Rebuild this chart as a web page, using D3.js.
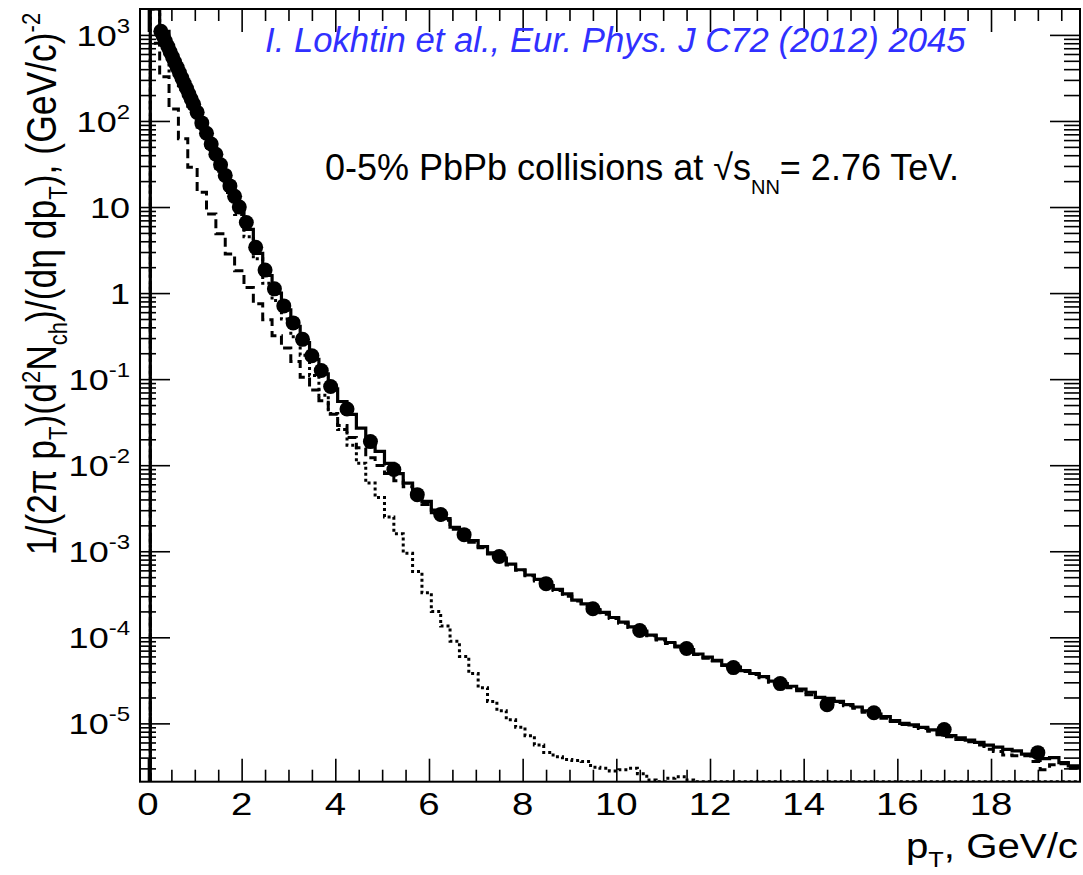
<!DOCTYPE html>
<html>
<head>
<meta charset="utf-8">
<script src="https://cdn.jsdelivr.net/npm/d3@7"></script>
<style>
  body { margin: 0; background: #fff; }
  text { font-family: "Liberation Sans", Arial, sans-serif; }
</style>
</head>
<body>
<svg id="chart" width="1083" height="875"></svg>
<script>
// measured points (ALICE 0-5%)
var dataPt = [0.275, 0.325, 0.375, 0.425, 0.475, 0.525, 0.575, 0.625, 0.675, 0.725, 0.775, 0.825, 0.875, 0.925, 0.975,
  1.05, 1.15, 1.25, 1.35, 1.45, 1.55, 1.65, 1.75, 1.85, 1.95,
  2.1, 2.3, 2.5, 2.7, 2.9, 3.1, 3.3, 3.5, 3.7, 3.9,
  4.25, 4.75, 5.25, 5.75, 6.25, 6.75, 7.5, 8.5, 9.5, 10.5, 11.5, 12.5, 13.5, 14.5, 15.5, 17, 19];
var dataY = [1100, 968, 840, 731, 634, 552, 479, 417, 362, 315, 273, 238, 206, 179, 156,
  126, 95, 72, 54, 41, 31, 23.3, 17.6, 13.3, 10.0,
  6.6, 3.4, 1.85, 1.12, 0.71, 0.45, 0.29, 0.187, 0.126, 0.082,
  0.045, 0.0188, 0.0089, 0.00455, 0.00267, 0.00156, 8.7e-4, 4.2e-4, 2.15e-4, 1.2e-4, 7.4e-5, 4.45e-5, 2.9e-5, 1.65e-5, 1.33e-5, 8.5e-6, 4.57e-6];

// model histograms, bins of 0.2 GeV/c starting at 0.05
var binStart = 0.05, binWidth = 0.2;
var totalH = [
  5000, 1100, 520, 295, 168, 95, 54, 31, 17.6, 10.0,
  5.5, 2.9, 1.6, 1.0, 0.64, 0.41, 0.265, 0.17, 0.115, 0.077,
  0.055, 0.039, 0.027, 0.019, 0.0145, 0.0105, 0.0080, 0.0062, 0.0047, 0.0038,
  0.0030, 0.0024, 0.0019, 0.0016, 0.00133, 0.00113, 0.00096, 0.00083, 0.00071, 0.00061,
  5.3e-4, 4.7e-4, 4.0e-4, 3.6e-4, 3.2e-4, 2.7e-4, 2.45e-4, 2.1e-4, 1.95e-4, 1.7e-4,
  1.50e-4, 1.32e-4, 1.18e-4, 1.06e-4, 9.6e-5, 8.7e-5, 7.9e-5, 7.2e-5, 6.4e-5, 5.9e-5,
  5.4e-5, 4.8e-5, 4.5e-5, 4.1e-5, 3.8e-5, 3.5e-5, 3.1e-5, 2.9e-5, 2.7e-5, 2.5e-5,
  2.3e-5, 2.0e-5, 1.95e-5, 1.8e-5, 1.65e-5, 1.55e-5, 1.40e-5, 1.28e-5, 1.20e-5, 1.08e-5,
  1.00e-5, 9.6e-6, 9.0e-6, 8.4e-6, 7.6e-6, 7.2e-6, 6.8e-6, 6.4e-6, 6.0e-6, 5.6e-6,
  5.3e-6, 5.0e-6, 4.8e-6, 4.4e-6, 4.2e-6, 3.9e-6, 4.0e-6, 3.5e-6, 3.2e-6, 3.1e-6];
var hardH = [
  800, 327, 138, 62, 29, 14.8, 8.3, 4.9, 2.85, 1.82,
  1.16, 0.75, 0.49, 0.32, 0.23, 0.16, 0.105, 0.075, 0.056, 0.039,
  0.029, 0.021, 0.016, 0.0122, 0.0099, 0.0080, 0.0066, 0.0056, 0.0044, 0.0035,
  0.0028, 0.0023, 0.0018, 0.00152, 0.00127, 0.0011, 0.00093, 0.00081, 0.00069, 0.00060,
  5.2e-4, 4.5e-4, 4.0e-4, 3.5e-4, 3.0e-4, 2.65e-4, 2.35e-4, 2.05e-4, 1.85e-4, 1.65e-4,
  1.46e-4, 1.30e-4, 1.15e-4, 1.04e-4, 9.3e-5, 8.5e-5, 7.7e-5, 7.0e-5, 6.3e-5, 5.7e-5,
  5.3e-5, 4.7e-5, 4.3e-5, 4.0e-5, 3.7e-5, 3.4e-5, 3.0e-5, 2.8e-5, 2.6e-5, 2.4e-5,
  2.15e-5, 2.0e-5, 1.85e-5, 1.75e-5, 1.6e-5, 1.5e-5, 1.35e-5, 1.25e-5, 1.15e-5, 1.05e-5,
  9.7e-6, 9.2e-6, 8.7e-6, 8.1e-6, 7.4e-6, 7.0e-6, 6.5e-6, 6.1e-6, 5.6e-6, 5.0e-6,
  4.7e-6, 4.3e-6, 4.2e-6, 4.2e-6, 3.6e-6, 2.9e-6, 3.3e-6, 3.4e-6, 3.0e-6, 2.9e-6];
var softH = [
  4000, 770, 380, 233, 139, 80, 46, 26, 14.7, 8.2,
  4.5, 2.5, 1.3, 0.82, 0.5, 0.31, 0.19, 0.11, 0.065, 0.040,
  0.026, 0.017, 0.0105, 0.0062, 0.0042, 0.0025, 0.0016, 0.00095, 0.00058, 0.00033,
  2.0e-4, 1.35e-4, 9.0e-5, 6.0e-5, 3.8e-5, 2.6e-5, 1.8e-5, 1.4e-5, 1.1e-5, 9.0e-6,
  7.2e-6, 5.6e-6, 4.6e-6, 4.1e-6, 3.8e-6, 3.7e-6, 3.6e-6, 3.1e-6, 3.0e-6, 2.8e-6,
  2.9e-6, 3.0e-6, 2.6e-6, 2.2e-6, 1.9e-6, 2.3e-6, 2.4e-6, 2.2e-6, 1.9e-6, 0];

var xTicks = [0, 2, 4, 6, 8, 10, 12, 14, 16, 18];
var xTickLabels = ["0", "2", "4", "6", "8", "10", "12", "14", "16", "18"];
var yTicks = [1e-5, 1e-4, 1e-3, 1e-2, 1e-1, 1, 10, 100, 1000];
var yTickLabels = ["10^-5", "10^-4", "10^-3", "10^-2", "10^-1", "1", "10", "10^2", "10^3"];

var frame = {left: 140, right: 1080, top: 9, bottom: 781.7};

var svg = d3.select("#chart");

var x = d3.scaleLinear().domain([-0.17, 19.9]).range([frame.left, frame.right]);
var y = d3.scaleLog().domain([2.1e-6, 2000]).range([frame.bottom, frame.top]).clamp(true);

svg.append("defs").append("clipPath").attr("id", "plotclip")
  .append("rect").attr("x", frame.left).attr("y", frame.top)
  .attr("width", frame.right - frame.left).attr("height", frame.bottom - frame.top);

var plot = svg.append("g").attr("clip-path", "url(#plotclip)");

function histPoints(vals) {
  var pts = [{x: binStart, v: 0}];
  vals.forEach(function(v, i) { pts.push({x: binStart + i * binWidth, v: v}); });
  pts.push({x: binStart + vals.length * binWidth, v: vals[vals.length - 1]});
  return pts;
}

var histLine = d3.line()
  .x(function(d) { return x(d.x); })
  .y(function(d) { return y(d.v); })
  .curve(d3.curveStepAfter);

var softFull = d3.range(totalH.length).map(function(i) { return softH[i] || 0; });

plot.append("path").datum(histPoints(softFull))
  .attr("d", histLine).attr("fill", "none")
  .attr("stroke", "#000").attr("stroke-width", 3).attr("stroke-dasharray", "3,3");

plot.append("path").datum(histPoints(hardH))
  .attr("d", histLine).attr("fill", "none")
  .attr("stroke", "#000").attr("stroke-width", 3).attr("stroke-dasharray", "9,5");

plot.append("path").datum(histPoints(totalH))
  .attr("d", histLine).attr("fill", "none")
  .attr("stroke", "#000").attr("stroke-width", 3.2);

plot.selectAll(".dot")
  .data(dataPt)
  .enter()
  .append("circle")
  .attr("class", "dot")
  .attr("cx", function(d) { return x(d); })
  .attr("cy", function(d, i) { return y(dataY[i]); })
  .attr("r", 7.5)
  .attr("fill", "#000");

// ticks on all four sides, pointing inwards
var xMinor = d3.range(0, 19.9, 0.5).filter(function(t) { return t % 2 !== 0; });
var yMinor = [];
d3.range(-6, 4).forEach(function(k) {
  d3.range(2, 10).forEach(function(m) {
    var v = m * Math.pow(10, k);
    if (v > 2.1e-6 && v < 2000) yMinor.push(v);
  });
});

function tickAxis(gen, pos, vals, len) {
  var g = svg.append("g").attr("transform", pos)
    .call(gen.tickValues(vals).tickSize(-len).tickFormat(""));
  g.select(".domain").remove();
  g.selectAll("line").attr("stroke", "#000").attr("stroke-width", 1.6);
  return g;
}

tickAxis(d3.axisBottom(x), "translate(0," + frame.bottom + ")", xTicks, 23);
tickAxis(d3.axisBottom(x), "translate(0," + frame.bottom + ")", xMinor, 12);
tickAxis(d3.axisTop(x), "translate(0," + frame.top + ")", xTicks, 23);
tickAxis(d3.axisTop(x), "translate(0," + frame.top + ")", xMinor, 12);
tickAxis(d3.axisLeft(y), "translate(" + frame.left + ",0)", yTicks, 30);
tickAxis(d3.axisLeft(y), "translate(" + frame.left + ",0)", yMinor, 16);
tickAxis(d3.axisRight(y), "translate(" + frame.right + ",0)", yTicks, 30);
tickAxis(d3.axisRight(y), "translate(" + frame.right + ",0)", yMinor, 16);

svg.append("rect")
  .attr("x", frame.left).attr("y", frame.top)
  .attr("width", frame.right - frame.left).attr("height", frame.bottom - frame.top)
  .attr("fill", "none").attr("stroke", "#000").attr("stroke-width", 2);

// tick labels
svg.selectAll(".xlab")
  .data(xTicks)
  .enter()
  .append("text")
  .attr("class", "xlab")
  .attr("transform", function(d) { return "translate(" + x(d) + ",815) scale(1.2,1)"; })
  .attr("text-anchor", "middle")
  .attr("font-size", 32)
  .attr("fill", "#000")
  .text(function(d, i) { return xTickLabels[i]; });

var ylab = svg.selectAll(".ylab")
  .data(yTicks)
  .enter()
  .append("text")
  .attr("class", "ylab")
  .attr("transform", function(d) { return "translate(130," + (y(d) + 11) + ") scale(1.2,1)"; })
  .attr("text-anchor", "end")
  .attr("font-size", 30)
  .attr("fill", "#000");

ylab.each(function(d, i) {
  var parts = yTickLabels[i].split("^");
  var t = d3.select(this);
  t.append("tspan").text(parts[0]);
  if (parts[1]) {
    t.append("tspan").attr("dy", -13).attr("font-size", 20).text(parts[1]);
  }
});

// axis titles
var xt = svg.append("text")
  .attr("transform", "translate(1078,858) scale(1.15,1)")
  .attr("text-anchor", "end")
  .attr("font-size", 35)
  .attr("fill", "#000");
xt.append("tspan").text("p");
xt.append("tspan").attr("dy", 9).attr("font-size", 22).text("T");
xt.append("tspan").attr("dy", -9).text(", GeV/c");

var yt = svg.append("text")
  .attr("transform", "translate(56,284) scale(1.2,1) rotate(-90)")
  .attr("text-anchor", "middle")
  .attr("font-size", 35.5)
  .attr("fill", "#000");
yt.append("tspan").text("1/(2\u03c0 p");
yt.append("tspan").attr("dy", 9).attr("font-size", 22).text("T");
yt.append("tspan").attr("dy", -9).text(")(d");
yt.append("tspan").attr("dy", -13).attr("font-size", 22).text("2");
yt.append("tspan").attr("dy", 13).text("N");
yt.append("tspan").attr("dy", 9).attr("font-size", 22).text("ch");
yt.append("tspan").attr("dy", -9).text(")/(d\u03b7 dp");
yt.append("tspan").attr("dy", 9).attr("font-size", 22).text("T");
yt.append("tspan").attr("dy", -9).text("), (GeV/c)");
yt.append("tspan").attr("dy", -13).attr("font-size", 22).text("-2");

// annotations
svg.append("text")
  .attr("x", 265).attr("y", 52)
  .attr("font-size", 34.7)
  .attr("font-style", "italic")
  .attr("fill", "#3030ff")
  .text("I. Lokhtin et al., Eur. Phys. J C72 (2012) 2045");

var note = svg.append("text")
  .attr("x", 325).attr("y", 180)
  .attr("font-size", 36)
  .attr("fill", "#000");
note.append("tspan").text("0-5% PbPb collisions at \u221as");
note.append("tspan").attr("dy", 14).attr("font-size", 20).text("NN");
note.append("tspan").attr("dy", -14).text("= 2.76 TeV.");
</script>
</body>
</html>
